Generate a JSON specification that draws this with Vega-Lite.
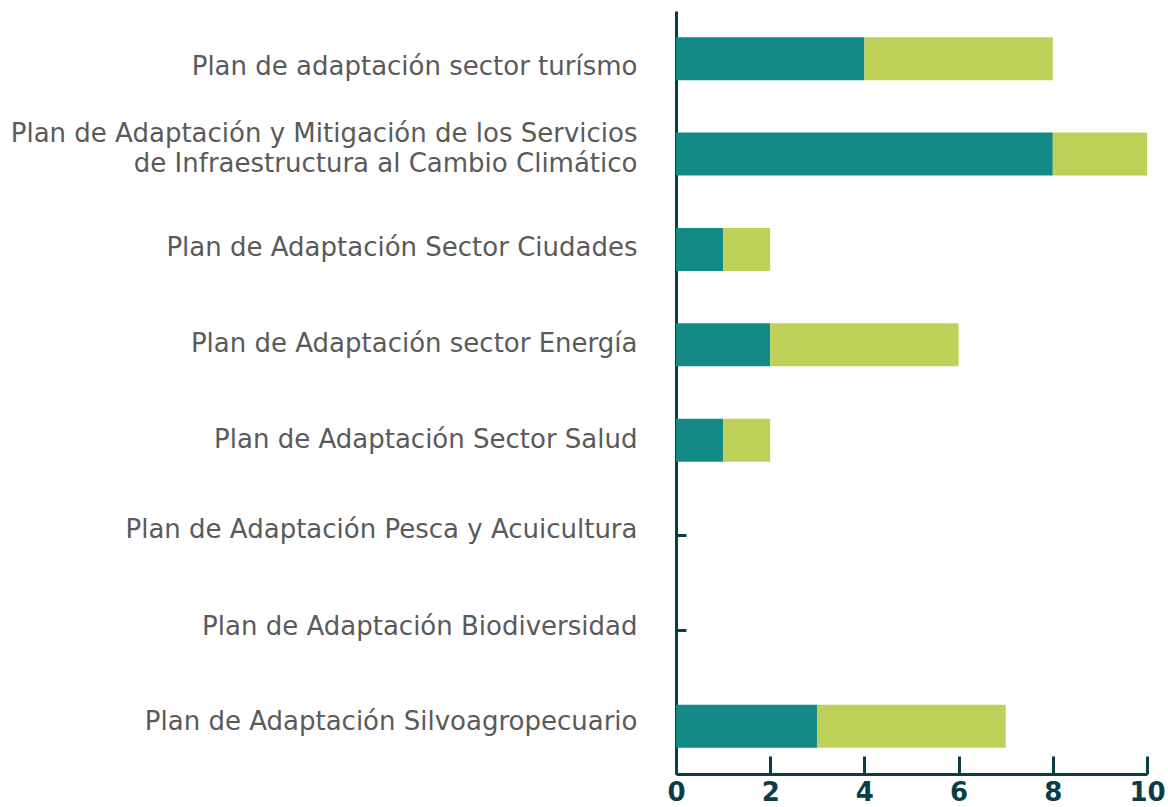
{
  "$schema": "https://vega.github.io/schema/vega-lite/v6.json",
  "autosize": "none",
  "padding": {"left": 676, "top": 11, "right": 21, "bottom": 33},
  "width": 471,
  "height": 763,
  "background": "white",
  "data": {
    "values": [
      {"plan": "Plan de adaptación sector turísmo", "serie": "Serie 1", "valor": 4},
      {"plan": "Plan de adaptación sector turísmo", "serie": "Serie 2", "valor": 4},
      {"plan": "Plan de Adaptación y Mitigación de los Servicios de Infraestructura al Cambio Climático", "serie": "Serie 1", "valor": 8},
      {"plan": "Plan de Adaptación y Mitigación de los Servicios de Infraestructura al Cambio Climático", "serie": "Serie 2", "valor": 2},
      {"plan": "Plan de Adaptación Sector Ciudades", "serie": "Serie 1", "valor": 1},
      {"plan": "Plan de Adaptación Sector Ciudades", "serie": "Serie 2", "valor": 1},
      {"plan": "Plan de Adaptación sector Energía", "serie": "Serie 1", "valor": 2},
      {"plan": "Plan de Adaptación sector Energía", "serie": "Serie 2", "valor": 4},
      {"plan": "Plan de Adaptación Sector Salud", "serie": "Serie 1", "valor": 1},
      {"plan": "Plan de Adaptación Sector Salud", "serie": "Serie 2", "valor": 1},
      {"plan": "Plan de Adaptación Pesca y Acuicultura", "serie": "Serie 1", "valor": 0},
      {"plan": "Plan de Adaptación Pesca y Acuicultura", "serie": "Serie 2", "valor": 0},
      {"plan": "Plan de Adaptación Biodiversidad", "serie": "Serie 1", "valor": 0},
      {"plan": "Plan de Adaptación Biodiversidad", "serie": "Serie 2", "valor": 0},
      {"plan": "Plan de Adaptación Silvoagropecuario", "serie": "Serie 1", "valor": 3},
      {"plan": "Plan de Adaptación Silvoagropecuario", "serie": "Serie 2", "valor": 4}
    ]
  },
  "mark": {"type": "bar"},
  "encoding": {
    "y": {
      "field": "plan",
      "type": "nominal",
      "sort": null,
      "scale": {"paddingInner": 0.55, "paddingOuter": 0.275},
      "axis": {
        "title": null,
        "domainColor": "#0b3d48",
        "domainWidth": 3,
        "tickColor": "#0b3d48",
        "tickWidth": 3,
        "tickSize": -10,
        "labelPadding": 49,
        "labelFont": "DejaVu Sans",
        "labelFontSize": 26,
        "labelColor": "#5a5a5a",
        "labelLimit": 700,
        "labelLineHeight": 30,
        "labelOffset": {
          "condition": [
            {"test": "datum.value == 'Plan de adaptación sector turísmo'", "value": 8},
            {"test": "datum.value == 'Plan de Adaptación y Mitigación de los Servicios de Infraestructura al Cambio Climático'", "value": -20},
            {"test": "datum.value == 'Plan de Adaptación Sector Ciudades'", "value": -1},
            {"test": "datum.value == 'Plan de Adaptación sector Energía'", "value": -1},
            {"test": "datum.value == 'Plan de Adaptación Sector Salud'", "value": 0},
            {"test": "datum.value == 'Plan de Adaptación Pesca y Acuicultura'", "value": -6},
            {"test": "datum.value == 'Plan de Adaptación Biodiversidad'", "value": -4},
            {"test": "datum.value == 'Plan de Adaptación Silvoagropecuario'", "value": -4}
          ],
          "value": 0
        },
        "labelExpr": "datum.label == 'Plan de Adaptación y Mitigación de los Servicios de Infraestructura al Cambio Climático' ? ['Plan de Adaptación y Mitigación de los Servicios', 'de Infraestructura al Cambio Climático'] : datum.label"
      }
    },
    "x": {
      "field": "valor",
      "type": "quantitative",
      "aggregate": "sum",
      "stack": "zero",
      "scale": {"domain": [0, 10], "nice": false},
      "axis": {
        "title": null,
        "values": [0, 2, 4, 6, 8, 10],
        "grid": false,
        "domainColor": "#0b3d48",
        "domainWidth": 3,
        "tickColor": "#0b3d48",
        "tickWidth": 3,
        "tickSize": -18,
        "labelPadding": 44,
        "labelBaseline": "alphabetic",
        "labelFont": "DejaVu Sans",
        "labelFontSize": 26,
        "labelFontWeight": "bold",
        "labelColor": "#0b3d48",
        "labelFlush": false
      }
    },
    "color": {
      "field": "serie",
      "type": "nominal",
      "scale": {"domain": ["Serie 1", "Serie 2"], "range": ["#148a87", "#bfd059"]},
      "legend": null
    },
    "order": {"field": "serie"}
  },
  "config": {"view": {"stroke": null}}
}
